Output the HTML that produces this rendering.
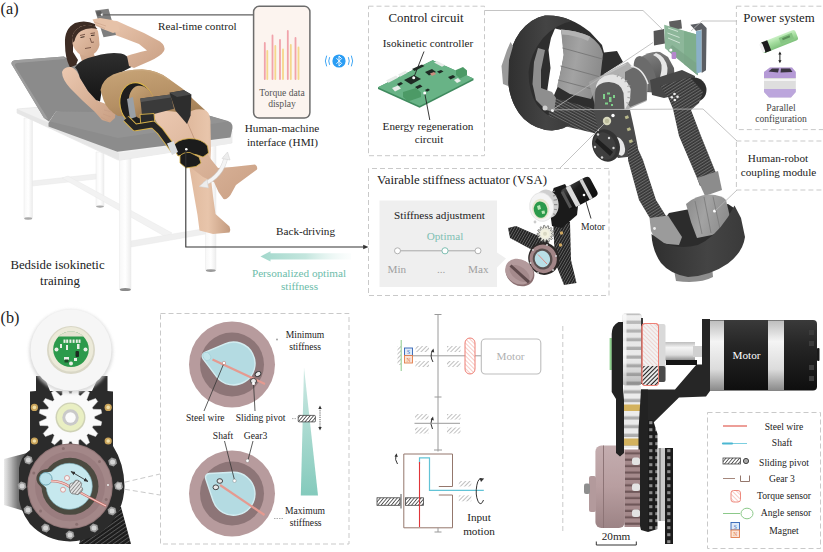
<!DOCTYPE html>
<html lang="en">
<head>
<meta charset="utf-8">
<title>Bedside isokinetic training exoskeleton with variable stiffness actuator</title>
<style>
html,body{margin:0;padding:0;background:#fff;}
body{width:823px;height:552px;overflow:hidden;font-family:"Liberation Serif",serif;}
svg{display:block;}
text{font-family:"Liberation Serif",serif;fill:#222;}
.t13{font-size:12.8px;}
.t11{font-size:11.2px;}
.t10{font-size:9.6px;}
.mid{text-anchor:middle;}
.dash{fill:none;stroke:#c9c9c9;stroke-width:1;stroke-dasharray:5 3;}
.lead{fill:none;stroke:#b5b5b5;stroke-width:0.8;}
</style>
</head>
<body>
<svg width="823" height="552" viewBox="0 0 823 552">
<defs>
<pattern id="hatchG" width="3" height="3" patternUnits="userSpaceOnUse" patternTransform="rotate(-45)">
<rect width="3" height="3" fill="#fff"/><line x1="0" y1="0" x2="3" y2="0" stroke="#b0b0b0" stroke-width="1.6"/>
</pattern>
<pattern id="hatchK" width="2.6" height="2.6" patternUnits="userSpaceOnUse" patternTransform="rotate(-50)">
<rect width="2.6" height="2.6" fill="#fff"/><line x1="0" y1="0" x2="2.6" y2="0" stroke="#333" stroke-width="1.5"/>
</pattern>
<pattern id="hatchG2" width="2.6" height="2.6" patternUnits="userSpaceOnUse" patternTransform="rotate(-50)">
<rect width="2.6" height="2.6" fill="#e4e4e4"/><line x1="0" y1="0" x2="2.6" y2="0" stroke="#777" stroke-width="1.4"/>
</pattern>
<pattern id="hatchR" width="3" height="3" patternUnits="userSpaceOnUse" patternTransform="rotate(45)">
<rect width="3" height="3" fill="#fff"/><line x1="0" y1="0" x2="3" y2="0" stroke="#ef9a90" stroke-width="1"/>
</pattern>
<pattern id="carbon" width="3" height="3" patternUnits="userSpaceOnUse" patternTransform="rotate(35)">
<rect width="3" height="3" fill="#2b2b2b"/><line x1="0" y1="0.5" x2="3" y2="0.5" stroke="#8a8a8a" stroke-width="0.9"/>
</pattern>
<pattern id="carbon2" width="3.4" height="3.4" patternUnits="userSpaceOnUse" patternTransform="rotate(-35)">
<rect width="3.4" height="3.4" fill="#1c1c1c"/><line x1="0" y1="0.5" x2="3.4" y2="0.5" stroke="#5a5a5a" stroke-width="0.9"/>
</pattern>
<filter id="b1" x="-10%" y="-10%" width="120%" height="120%"><feGaussianBlur stdDeviation="0.6"/></filter>
<filter id="b2" x="-20%" y="-20%" width="140%" height="140%"><feGaussianBlur stdDeviation="1.5"/></filter>
<filter id="b4" x="-30%" y="-30%" width="160%" height="160%"><feGaussianBlur stdDeviation="3.5"/></filter>
<marker id="arr" viewBox="0 0 10 10" refX="9" refY="5" markerWidth="6" markerHeight="6" orient="auto-start-reverse"><path d="M0,1 L10,5 L0,9 z" fill="#333"/></marker>
</defs>
<rect width="823" height="552" fill="#fff"/>
<!-- ===== (a) bed and patient ===== -->
<g id="bed">
<defs>
<linearGradient id="skin" x1="0" y1="0" x2="1" y2="1"><stop offset="0" stop-color="#ecc9b1"/><stop offset="1" stop-color="#c99f83"/></linearGradient>
<linearGradient id="skin2" x1="0" y1="0" x2="1" y2="0"><stop offset="0" stop-color="#dfb89c"/><stop offset="0.5" stop-color="#e8c5ab"/><stop offset="1" stop-color="#c39a7e"/></linearGradient>
<linearGradient id="legw" x1="0" y1="0" x2="1" y2="0"><stop offset="0" stop-color="#f7f7f7"/><stop offset="0.5" stop-color="#ffffff"/><stop offset="1" stop-color="#ececec"/></linearGradient>
<linearGradient id="matt" x1="0" y1="0" x2="0" y2="1"><stop offset="0" stop-color="#9a9a9a"/><stop offset="1" stop-color="#888"/></linearGradient>
<linearGradient id="tealarrow" x1="0" y1="0" x2="1" y2="0"><stop offset="0" stop-color="#a3d8cc"/><stop offset="0.5" stop-color="#c4e6de"/><stop offset="1" stop-color="#eef8f6" stop-opacity="0.2"/></linearGradient>
<linearGradient id="shorts" x1="0" y1="0" x2="0.3" y2="1"><stop offset="0" stop-color="#c8a578"/><stop offset="0.6" stop-color="#b48f64"/><stop offset="1" stop-color="#9c7a52"/></linearGradient>
<linearGradient id="topg" x1="0" y1="0" x2="0" y2="1"><stop offset="0" stop-color="#2e2e2e"/><stop offset="1" stop-color="#151515"/></linearGradient>
</defs>
<!-- frame legs and rails (white) -->
<g stroke="#e9e9e9" stroke-width="0.5">
<path d="M96,152 H104 V206 Q100,208.5 96,206 z" fill="url(#legw)"/>
<path d="M32,181 L96,174 L96,179 L32,186 z" fill="#f0f0f0"/>
<path d="M62,178 L68,176 L172,233 L166,237 z" fill="#f2f2f2"/>
<path d="M205.5,140 H216 V270 Q211,273 205.5,270 z" fill="url(#legw)"/>
<path d="M131,241 L205.5,228.5 L205.5,234 L131,247 z" fill="#efefef"/>
<path d="M24,118 H32.5 V218 Q28,220.5 24,218 z" fill="url(#legw)"/>
<path d="M119.5,156 H131 V289 Q125,292.5 119.5,289 z" fill="url(#legw)"/>
</g>
<ellipse cx="125.3" cy="289.5" rx="5.6" ry="1.6" fill="#8a8a8a"/><ellipse cx="210.8" cy="270.6" rx="5" ry="1.4" fill="#9a9a9a"/>
<ellipse cx="28.2" cy="218.5" rx="4" ry="1.2" fill="#aaa"/><ellipse cx="100" cy="206.6" rx="3.8" ry="1.1" fill="#aaa"/>
<!-- frame top -->
<path d="M17,109 L52,106 L232,131 L232,143 L121,160 L118,160 L17,113 z" fill="#f1f1f1" stroke="#dedede" stroke-width="0.5"/>
<path d="M17,113 L119,160 L119,153 L17,109 z" fill="#e6e6e6"/>
<path d="M119,153 L231,138 L231,143.5 L119,160 z" fill="#ededed"/>
<!-- mattress -->
<path d="M48.5,123 L56,111.5 L160,104 L207,115 L228,121 Q233,123 232.5,128 L230.5,137.5 L117.3,151.8 L48.5,126.5 z" fill="#8c8c8c"/>
<path d="M50,121.5 L56.5,111.5 L160,104 L207,115 L228,121.5 L118,138 z" fill="#939393"/>
<!-- backrest -->
<path d="M11.5,64 Q11,61 15,60.2 L64,56.5 L80,66 L100,112 L56,111.5 L49,121.5 L44,118 z" fill="#8b8b8b"/>
<path d="M11.5,64 Q11,61 15,60.2 L64,56.5 L65,59 L17,63 Q14.5,63.5 15,66 L48,119 L44,118 z" fill="#9d9d9d"/>
<!-- hair -->
<path d="M65,44 Q64,29 75,23 Q85,19.5 95,24 L96,30 L80,32 L73,42 L73,52 L78,60 L76,65 L70,67.5 Q65,58 65,44 z" fill="#3d2c24"/>
<!-- neck + face -->
<path d="M79,52 L92,50 L96,59 L83,64.5 z" fill="#cfa78c"/>
<path d="M72,37 Q75,27 86,25 Q95,24.5 98,31 L99,38 L99.5,45 Q98,52 92,55 Q84,58 78,53 Q71,46 72,37 z" fill="url(#skin)"/>
<path d="M72,37 Q75,27 86,25 Q94,24.5 97.5,29 Q88,27 81,31 Q76,34 74.5,41 L72.5,43 z" fill="#3d2c24"/>
<path d="M80,35.5 l5,-1.2 M90.5,33.5 l4.5,-0.6 M90,38 l1.5,4.5 l2.5,-0.5 M85,48.5 l6,-1" stroke="#6f4d3f" stroke-width="0.9" fill="none"/>
<path d="M80.5,37.5 l4,-0.8 M91,35.5 l3.6,-0.4" stroke="#3a2a22" stroke-width="1" fill="none"/>
<!-- left (near) arm -->
<path d="M62,72 Q64,66.5 71,67 Q77,69 80,78 L88,91 L98,101 L106,104 L113,103 L116,108 L115,118 L110,122.5 L102,120 L95,112 L83,101 L70,88 Q62,79 62,72 z" fill="url(#skin)"/>
<!-- top -->
<path d="M75,67.5 Q79,61 88,58 L101,54.5 Q112,52 121,53.5 Q128,55 130,61 L131.5,67 L120,73 L107,80 L102,89 L100,101.5 L96,100 L88,91 L80,78 Q78,70 75,67.5 z" fill="url(#topg)"/>
<!-- far arm holding phone -->
<path d="M127,56 Q135,53 147,50.5 L139,44 L122,37.5 L108,32.5 L100,23 L104,19.5 L117,21 L128,26 L144,33 L160,41.5 Q166,46 164,51 Q161,56 150,61 L134,68 L129,66 z" fill="url(#skin)"/>
<!-- phone -->
<path d="M95,10.5 L108.5,8.8 L116,35 L103.5,37.3 z" fill="#7e7e7e"/>
<path d="M96,11.5 L101,11 L102.5,15.5 L97.5,16.2 z" fill="#5d5d5d"/>
<circle cx="102" cy="14.6" r="1.2" fill="#fff"/>
<path d="M92.5,19.5 L100,18 L112,20 L118,25 L120,31 L113,33 L104,29.5 L96,26 z" fill="#e6c2a8"/><path d="M94,22 l12,4 M95,24.5 l10,4" stroke="#c9a188" stroke-width="0.6" fill="none"/>
<!-- far thigh / shorts -->
<path d="M100.5,90 Q102,80 113,74.5 Q126,69.5 142,69.5 Q158,70 169,79 L183,89 L194,100 L205,110 L207,122 L196,130 L180,118 L150,118 L118,116 Q107,110 103.5,100 z" fill="url(#shorts)"/>
<path d="M113,76 Q126,70 142,70 Q158,71 169,80" fill="none" stroke="#c8a67c" stroke-width="1.5"/>
<!-- far lower leg (hanging) -->
<path d="M186,114 Q196,107 206,110.5 Q211,114 210.5,126 L211,150 L210,170 L213,196 L215.5,214 L229.5,226.5 Q231,230 229.5,232.5 L213,234 L199.5,230.5 L197.5,215 L194,195 L189,165 L186,140 z" fill="url(#skin2)"/>
<!-- near lower leg w/ raised foot -->
<path d="M152,114 Q165,108 184,114 L188,124 L194,138 L205,148 L210,158 L218,168 L232,167 L255,164.5 Q258,166 257,169.5 L247.5,176.5 L236,185 L230.5,195 Q227,200 223.5,199 L218.5,192 L214,182 L203,177 L190,167 L176,150 L163,133 z" fill="url(#skin)"/>
<path d="M184,114 L188,124 L194,138 L203,147" fill="none" stroke="#b98e74" stroke-width="1" opacity="0.7"/>
<!-- upper cuff ring -->
<ellipse cx="137" cy="104" rx="17" ry="21.5" transform="rotate(-12 137 104)" fill="#1e1e1e" stroke="#d8b24a" stroke-width="1.1"/>
<ellipse cx="141.5" cy="102.5" rx="12.5" ry="17" transform="rotate(-12 141.5 102.5)" fill="url(#shorts)"/>
<path d="M127,99 L133,97 L136,117 L130,119 z" fill="#9aa0a6"/>
<!-- brace boxes -->
<path d="M140.3,98.6 L170.5,94.4 L174,108.7 L154,114 L142,115.5 z" fill="#3a3a3a"/>
<path d="M140.3,98.6 L170.5,94.4 L171,97.5 L141,102 z" fill="#555"/>
<path d="M169.5,92.8 L184,90.2 L191.4,94.4 L190.6,115.4 L187,124 L175.5,110.5 z" fill="#2d2d2d"/>
<path d="M169.5,92.8 L184,90.2 L191.4,94.4 L177,97 z" fill="#4a4a4a"/>
<!-- lower brace link with yellow outline -->
<path d="M140,114.5 L154,113.5 L155,125 L141,128 z" fill="#2a2a2a" stroke="#d8b24a" stroke-width="0.9"/>
<path d="M126,118.5 L135,127.5 L153,124.5 L160,131 L174,150" fill="none" stroke="#d8b24a" stroke-width="7.6" stroke-linejoin="round"/>
<path d="M126,118.5 L135,127.5 L153,124.5 L160,131 L174,150" fill="none" stroke="#242424" stroke-width="5.8" stroke-linejoin="round"/>
<!-- lower cuff -->
<path d="M173,147 Q176,139.5 189,138.5 Q202,138.5 207.5,146 L208.5,153 L203,157 Q190,151 178,156 z" fill="#1c1c1c" stroke="#d8b24a" stroke-width="0.8"/>
<path d="M180,156 Q183,152 190,152.5 L199,157 L201,163 L196,166.5 L186,168 L180,163 z" fill="#1c1c1c" stroke="#d8b24a" stroke-width="0.8"/>
<path d="M167,143.5 L173.5,141 L178,152 L172,155 z" fill="#d9dcdf"/>
<circle cx="186.3" cy="149.3" r="1.3" fill="#fff"/>
<!-- hand details -->
<path d="M104,110 l8,2 M103,114 l8,3 M101,117 l7,4" stroke="#c79e84" stroke-width="0.7" fill="none"/>
<!-- motion arrow (white curved) -->
<path d="M204,184 Q222,176 226,157" fill="none" stroke="#cfcfcf" stroke-width="4.6" opacity="0.7"/>
<path d="M204,184 Q222,176 226,157" fill="none" stroke="#f4f4f4" stroke-width="3.4"/>
<path d="M199,186.5 L207,179.5 L208.5,188 z M222,158.5 L227.5,152 L230,160 z" fill="#ededed" stroke="#cfcfcf" stroke-width="0.5"/>
<!-- connector lines -->
<path d="M102.5,14.8 H253.5" stroke="#606060" stroke-width="1.3" fill="none"/>
<path d="M185.8,151 V247 H366" stroke="#333" stroke-width="1.1" fill="none"/>
<path d="M363.2,244.7 L368.5,247 L363.2,249.3 z" fill="#333"/>
<!-- teal arrow -->
<path d="M260.5,256.4 L270.5,251.2 V253.3 H351 V259.6 H270.5 V261.6 z" fill="url(#tealarrow)"/>
</g>
<!-- ===== HMI phone + bluetooth ===== -->
<g id="hmi">
<rect x="253.6" y="6.3" width="56.3" height="111.8" rx="5.5" fill="#fcf4ef" stroke="#6c6c6c" stroke-width="1.5"/>
<g stroke-linecap="round" stroke-width="1.8" fill="none">
<path d="M264.8,79 V43 M272.5,79 V35.5 M280,79 V40 M287.8,79 V31 M295.5,79 V38" stroke="#f1a3ab"/>
<path d="M267.3,79 V51 M275.3,79 V46 M283,79 V49.5 M290.8,79 V45 M298.5,79 V47.5" stroke="#f5d88c"/>
</g>
<circle cx="339" cy="61" r="6.6" fill="#2a9df4"/>
<path d="M336.4,58.2 L341.6,63.4 L339,66 V56 L341.6,58.6 L336.4,63.8" fill="none" stroke="#fff" stroke-width="0.9" stroke-linejoin="round"/>
<g fill="none" stroke="#2a9df4" stroke-width="0.9" stroke-linecap="round">
<path d="M329.5,57.5 Q327.8,61 329.5,64.5 M326.5,56 Q324,61 326.5,66"/>
<path d="M348.5,57.5 Q350.2,61 348.5,64.5 M351.5,56 Q354,61 351.5,66"/>
</g>
</g>
<!-- ===== (a) exoskeleton render ===== -->
<g id="exo">
<defs>
<linearGradient id="padg" x1="0" y1="0" x2="1" y2="0.3"><stop offset="0" stop-color="#8a8a8a"/><stop offset="0.5" stop-color="#a3a3a3"/><stop offset="1" stop-color="#8d8d8d"/></linearGradient>
<linearGradient id="bandg" x1="0" y1="0" x2="1" y2="0"><stop offset="0" stop-color="#2f2f2f"/><stop offset="0.6" stop-color="#444"/><stop offset="1" stop-color="#3a3a3a"/></linearGradient>
<linearGradient id="motg" x1="0" y1="0" x2="0.4" y2="1"><stop offset="0" stop-color="#8a8a8a"/><stop offset="0.5" stop-color="#6a6a6a"/><stop offset="1" stop-color="#4a4a4a"/></linearGradient>
<pattern id="cf" width="2.6" height="2.6" patternUnits="userSpaceOnUse" patternTransform="rotate(28)">
<rect width="2.6" height="2.6" fill="#353535"/><line x1="0" y1="0.6" x2="2.6" y2="0.6" stroke="#7d7d7d" stroke-width="0.8"/>
</pattern>
<pattern id="cfb" width="2.6" height="2.6" patternUnits="userSpaceOnUse" patternTransform="rotate(-32)">
<rect width="2.6" height="2.6" fill="#353535"/><line x1="0" y1="0.6" x2="2.6" y2="0.6" stroke="#7d7d7d" stroke-width="0.8"/>
</pattern>
</defs>
<!-- upper ring: full silhouette -->
<path d="M545,15.5 Q568,14 590,32 L602,45 L604,52.5 L617,51 L623,62 L604,74 L598,96 L598,112 L572,122 Q566,129 552,130.5 Q536,130 524,119 Q509,104 507.5,76 Q507,50 520,32 Q531,18 545,15.5 z" fill="#2e2e2e"/>
<!-- hole -->
<path d="M555,28.5 L561.5,30 L564,55 L561,70 L558,86 L553,97.5 L547,92 L550.5,68 L548.5,50 L551,38 z" fill="#fff"/>
<!-- grey pad (upper) -->
<path d="M561,29.5 Q575,30 590,36.5 Q601,44 603,54 L600,80 L591,99 L570,94 L557,86.5 L561,70 L563.5,55 z" fill="url(#padg)"/>
<path d="M562.5,48 L602.5,59 M560.5,66 L600.5,77 M558,80 L596,90" stroke="#7a7a7a" stroke-width="1" fill="none"/>
<path d="M561,29.5 Q575,30 590,36.5 L588,41 Q575,35 562,34.5 z" fill="#b3b3b3"/>
<!-- upper left carbon strut -->
<path d="M551,97 L598,110 L598,134 L560,125 L548,119 z" fill="url(#cf)"/>
<!-- ring near band (outer surface) -->
<path d="M545,15.5 Q560,15 572,21 Q556,24 543,38 Q530,54 528.5,72 Q528.5,92 537,105 Q546,116 556,119 L570,124 Q566,129 552,130.5 Q536,130 524,119 Q509,104 507.5,76 Q507,50 520,32 Q531,18 545,15.5 z" fill="url(#bandg)"/>
<!-- buckle parts -->
<path d="M501.5,66 L507,50 L510.5,42 L513,46 L509,60 L508,86 L503,84 z" fill="#9a9a9a"/>
<path d="M534,62 L538,48 L545,50 L541,70 L541,88 L552,92 L556,98 L554,112 L546,110 L536,100 L532.5,84 z" fill="#8e8e8e"/>
<circle cx="545" cy="108" r="2.5" fill="#cfcfcf"/><circle cx="552.5" cy="110.5" r="1.4" fill="#fff"/>
<!-- main motor cylinder -->
<path d="M632,70 L640,58 Q650,50.5 660,52 L668,57 L674,68 L675,84 L664,93 L646,92 z" fill="url(#motg)"/>
<ellipse cx="645" cy="74" rx="9.5" ry="19" transform="rotate(-22 645 74)" fill="#6b6b6b"/>
<path d="M656,53 Q665.5,56 667.5,68 Q667.5,76 664.5,82 L659,80 Q662,72 661.5,65 Q660,58 653,55 z" fill="#e6e6e6"/>
<!-- translucent housing -->
<path d="M588.7,82 L627.8,61.7 L648,83.5 L646.7,101 L627.8,109.6 L596,109 z" fill="#a2a2a2" opacity="0.85"/>
<path d="M625,72 L634,67 L646.7,82 L646.7,100 L630,107 L625,100 z" fill="#6a6a6a"/>
<path d="M630.7,66 Q643,68 648,84" fill="none" stroke="#e9e9e9" stroke-width="1.6"/>
<path d="M600,77.5 L626,64" stroke="#c4c4c4" stroke-width="1.2" fill="none"/>
<!-- motor mount block -->
<path d="M650,80 L682,70 L695,76 L694,91 L664,98 L652,95 z" fill="#474747"/>
<!-- PCB + battery at top -->
<path d="M653.6,31 L664,29 L665,43.5 L654,45.5 z" fill="#565656"/>
<path d="M669,21.5 L681,19.8 L682,28.5 L670,30 z" fill="#5e5e5e"/>
<path d="M664.2,24.7 L696.9,34.5 L697.7,75.2 L665,48.3 z" fill="#8db79a"/>
<path d="M684,31 L696.9,34.5 L697.7,75.2 L684,64 z" fill="#7fae8d"/><path d="M668,51 L697.7,75.2 L697.5,64 L672,45 z" fill="#7aa487" opacity="0.8"/>
<path d="M668,28 l10,3.5 M667.5,33 l12,4.5 M668,38 l12,5" stroke="#dfeee2" stroke-width="1" fill="none" opacity="0.8"/>
<path d="M696,31.2 L701.7,30 L701.7,72 L696.5,73.6 z" fill="#8ab0c8"/>
<path d="M690.3,24.7 L701.7,23 L706.6,28 L706,70.3 L701.7,73 L701.7,29.5 L696,31 z" fill="#5b5e63"/>
<circle cx="670.8" cy="50" r="1.6" fill="#fff"/><rect x="671.6" y="52" width="4.6" height="7" rx="1" fill="#b487cc"/>
<!-- right carbon strut + lower -->
<circle cx="694" cy="90" r="12.5" fill="#2e2e2e"/>
<path d="M660,86 L690,77 L703,92 L699,103 L691,110 L701,136 L716,173 L718,180 L700,186 L697,178 L679,136 L673,109 L668,97 z" fill="url(#cfb)"/>
<g fill="#ededed"><circle cx="674.5" cy="94" r="1.3"/><circle cx="677.5" cy="96.8" r="1.3"/><circle cx="671.8" cy="97.2" r="1.3"/><circle cx="674.8" cy="100" r="1.3"/></g>
<!-- joint body: gear + tombstone -->
<path d="M596,86 Q599,75 613,74.5 Q626,76 630.7,89 L630,100 L625,109.5 L596,110 z" fill="#e3e3e3"/>
<path d="M617,77 l1.6,-2.6 m2.6,4.6 l2.2,-2.2 m1.2,5.2 l2.6,-1.6 m0,6 l3,-1 m-2.6,6.6 l3,-0.2 m-3.2,5.6 l3,0.6 m-4,4.6 l2.6,1.2" stroke="#a6a6a6" stroke-width="1.1" fill="none"/>
<path d="M595.2,92 Q596,82.5 609,82 Q621,82.5 623.5,93 L624.5,109.5 L594,110 z" fill="#5a5a5a"/>
<g fill="#7fd08a"><rect x="603" y="94" width="2" height="5"/><rect x="607" y="92.5" width="3" height="2"/><rect x="609" y="97" width="2.5" height="5"/><rect x="613" y="95" width="2" height="3"/><rect x="605" y="102.5" width="3" height="2"/><rect x="611" y="104" width="2" height="2"/></g>
<!-- joint plate -->
<path d="M593.5,110 L630,110 L634,128 L638,148 L636,156 L618,158 L600,136 z" fill="#4b4b4b"/>
<circle cx="607" cy="121" r="4.2" fill="#d8d8bc"/><circle cx="607" cy="121" r="2.2" fill="#bdbd9c"/>
<circle cx="613" cy="115.5" r="1.7" fill="#fff"/>
<g fill="#b9b98a"><rect x="625" y="116" width="3.5" height="3" transform="rotate(-20 626 117)"/><rect x="627" y="128" width="3.5" height="3" transform="rotate(-20 628 129)"/><rect x="629" y="140" width="3.5" height="3" transform="rotate(-20 630 141)"/></g>
<!-- left lower strut -->
<path d="M628,150 L634,140 L643,160 L656,200 L667,217.5 L669,226 L653,228 L651,220 L639,200 L628,160 z" fill="url(#cfb)"/>
<!-- hub disc -->
<ellipse cx="619.5" cy="146.5" rx="5" ry="9.5" transform="rotate(-18 619.5 146.5)" fill="#e8e8e8"/>
<ellipse cx="606" cy="145.5" rx="13.5" ry="16.5" transform="rotate(-22 606 145.5)" fill="#333"/>
<ellipse cx="604.5" cy="146" rx="11" ry="14" transform="rotate(-22 604.5 146)" fill="#3f3f3f"/>
<path d="M597,138 L613,152 L610,156 L595,142 z" fill="#1f1f1f"/>
<g fill="#d5d5d5"><circle cx="598" cy="134.5" r="1.2"/><circle cx="609" cy="138" r="1.2"/><circle cx="613.5" cy="148" r="1.2"/><circle cx="595" cy="147" r="1.2"/><circle cx="602" cy="157.5" r="1.2"/></g>
<!-- lower cuff -->
<path d="M697,178 L718,171 L722,190 L705,196 z" fill="#8c8c8c"/>
<path d="M669,213 L690,209 L728,204 L734,208 L730,232 L700,250 L670,248 L655,240 L660,225 z" fill="#2c2c2c"/>
<path d="M686,204 Q696,195 709.5,194.5 Q722,195 726,200 L730,217 L728.5,228 L712,235 L697,238 L691,222 z" fill="url(#padg)"/>
<path d="M695,201 L702,234 M704,197 L711,233 M713,196.5 L720,229" stroke="#7d7d7d" stroke-width="0.9" fill="none"/>
<path d="M649.5,218 L668,215.5 L682,237 L679,245 L657,243 L651,231 z" fill="#9b9b9b"/>
<circle cx="654.5" cy="228.5" r="1.4" fill="#eee"/>
<path d="M674,270 L712,266 L713,277 Q700,284 676,281 z" fill="#8d8d8d"/>
<path d="M651.5,234 L664,243 Q680,250 698,245 Q714,238 728,217 L734.5,205.5 L741,218 L745,237 Q743,252 728,263.5 Q710,276 688,277 Q670,274 661,263 Q652,250 651.5,234 z" fill="url(#bandg)"/>
<circle cx="714.5" cy="211" r="1.5" fill="#fff"/>
</g>
<!-- ===== control PCB ===== -->
<g id="pcb">
<path d="M378,87.2 L432.7,60.2 L473.5,78.4 L473.5,80.2 L419.6,107.8 L378,89 z" fill="#3f8a5e"/>
<path d="M378,87.2 L432.7,60.2 L473.5,78.4 L419.6,106 z" fill="#68b386"/>
<g fill="#e8ece9">
<path d="M386,80.5 L396,75.5 L398.5,77.5 L388.5,82.8 z"/><path d="M398,74.5 L405.5,70.8 L407.5,72.8 L400,76.8 z"/>
<path d="M434,62.5 L437,61 L445,65 L442,66.8 z"/><path d="M392,88 L398,85.5 L401,88.5 L395,91.5 z"/>
<path d="M454,80 L458,78 L461,81 L457,83 z"/>
</g>
<g fill="#1f2a24">
<path d="M404,80 L414,75 L421,79 L411,84.5 z"/><path d="M412,69 L422,64.5 L424.5,66 L414.5,71 z"/>
<path d="M425,72 L432,69 L436,72 L429,75.5 z"/><path d="M437,71.5 L441,70 L443.5,71.5 L439.5,73.5 z"/>
<path d="M448,77 L453,75 L455.5,77 L450.5,79.5 z"/><path d="M397,84 L401,82 L403,83.8 L399,86 z"/>
<path d="M415,87 L420,84.5 L422.5,86.5 L417.5,89 z"/><path d="M425,90 L428,88.5 L430,90 L427,91.8 z"/>
</g>
<path d="M430,73.5 L434,72 L436,74 L432,76 z" fill="#c98d7e"/>
<path d="M456,70 L463,67 L467,70.5 L467,75 L460,78.5 L456,75 z" fill="#4c9a66"/>
<path d="M403,92 L416,88 L421,92.5 L421,97 L408,101.5 L403,97 z" fill="#4c9a66"/>
<path d="M424,51.5 L413.7,77.7" stroke="#222" stroke-width="0.9"/>
<path d="M424.7,93 L429.8,120" stroke="#222" stroke-width="0.9"/>
<circle cx="413.7" cy="77.7" r="1.5" fill="#fff"/><circle cx="424.7" cy="93" r="1.5" fill="#fff"/>
</g>
<!-- ===== power system ===== -->
<g id="power">
<defs>
<linearGradient id="cellg" x1="0" y1="0" x2="0" y2="1"><stop offset="0" stop-color="#c9f0c4"/><stop offset="0.45" stop-color="#a3dc9d"/><stop offset="1" stop-color="#7fc17c"/></linearGradient>
</defs>
<g transform="rotate(-21.5 779 41.5)">
<rect x="760" y="36" width="38" height="11" rx="2.5" fill="url(#cellg)"/>
<rect x="762" y="36" width="6.5" height="11" fill="#1c1c1c"/>
<rect x="759.5" y="36.6" width="3.2" height="9.8" rx="1.5" fill="#f2f2f2"/>
<rect x="780" y="38" width="14" height="6.5" fill="#86c583"/>
<rect x="783" y="39.5" width="8" height="2.2" fill="#5b8f5a"/>
</g>
<path d="M779.9,53.5 V61" stroke="#222" stroke-width="1"/>
<path d="M778.3,54.5 L779.9,51.5 L781.5,54.5 z M778.3,60.2 L779.9,63.2 L781.5,60.2 z" fill="#222"/>
<path d="M764,72 L770,67.5 L792,67.5 L795.8,72 L795.8,92 L791,97.5 L769,97.5 L764,92 z" fill="#dedede"/>
<path d="M764,72 L770,67.5 L792,67.5 L795.8,72 L795.8,78 L764,78 z" fill="#b59ad6"/>
<path d="M764,89 H795.8 V92 L791,97.5 H769 L764,92 z" fill="#bca6dc"/>
<path d="M768.5,71.5 L772,68.5 L779,68.5 L778,72.5 z M781,68.5 L790,68.5 L792.5,72 L780.5,72.5 z" fill="#3a3540"/>
<path d="M764,80 H795.8" stroke="#f4f4f4" stroke-width="2"/>
</g>
<!-- ===== VSA 3D inset ===== -->
<g id="vsa3d">
<defs><linearGradient id="blk" x1="0" y1="0" x2="0.5" y2="1"><stop offset="0" stop-color="#4a4a4a"/><stop offset="0.4" stop-color="#1e1e1e"/><stop offset="1" stop-color="#111"/></linearGradient>
<pattern id="cfs" width="2.4" height="2.4" patternUnits="userSpaceOnUse" patternTransform="rotate(-60)"><rect width="2.4" height="2.4" fill="#1f1f1f"/><line x1="0" y1="0.5" x2="2.4" y2="0.5" stroke="#6d6d6d" stroke-width="0.8"/></pattern></defs>
<path d="M508,228 L516,226 L548,240 L552,258 L536,252 L510,238 z" fill="url(#cfs)"/>
<path d="M553,220 L570,222 L571,260 L576.5,283 L564,285 L555,262 z" fill="url(#cfs)"/>
<path d="M553.7,188 L565,184 L578,206 L577,215 L562,228 L552,226 L549,205 z" fill="#1b1b1b"/>
<g transform="rotate(-28 581 192)"><rect x="563" y="181" width="32.5" height="22" rx="4" fill="url(#blk)"/><rect x="569.5" y="181" width="5" height="22" fill="#dcdcdc"/><rect x="585" y="181" width="3.4" height="22" fill="#d0d0d0"/><rect x="563" y="183" width="3" height="18" fill="#555"/></g>
<ellipse cx="547" cy="204" rx="11.5" ry="14.5" transform="rotate(-12 547 204)" fill="#cfcfcf"/>
<path d="M552,192 l3,-1 m-2,5 l3.2,-0.8 m-2.6,5 l3.4,-0.6 m-3,5 l3.4,0 m-3.6,4.6 l3.2,0.6 m-4,4 l3,1" stroke="#8e8e8e" stroke-width="1.1" fill="none"/>
<ellipse cx="541.7" cy="207" rx="12" ry="14.5" transform="rotate(-10 541.7 207)" fill="#f4f4f4" stroke="#dcdcdc" stroke-width="0.6"/>
<ellipse cx="540.8" cy="209" rx="8.6" ry="10.2" transform="rotate(-10 540.8 209)" fill="#e8e6cf"/>
<ellipse cx="540.6" cy="209.6" rx="6.8" ry="8.2" transform="rotate(-10 540.6 209.6)" fill="#2c9a4b"/>
<path d="M537,206 l3,-1 l1,4 l-3,1 z M541.5,211 l3,-0.6 l0.6,3 l-3,0.6 z" fill="#b8e6b4"/>
<g transform="translate(1,1.2)"><path d="M550.5,232.6 L552.8,233.7 L552.6,234.9 L550.0,234.9 L549.8,235.4 L551.4,237.4 L550.6,238.4 L548.3,237.2 L547.9,237.6 L548.4,240.1 L547.2,240.5 L545.8,238.5 L545.2,238.6 L544.4,241.0 L543.2,240.9 L542.9,238.4 L542.3,238.2 L540.5,240.0 L539.5,239.4 L540.4,237.0 L540.0,236.5 L537.6,237.3 L536.9,236.3 L538.8,234.6 L538.7,234.0 L536.2,233.6 L536.1,232.3 L538.6,231.7 L538.7,231.1 L536.7,229.6 L537.2,228.5 L539.7,229.0 L540.0,228.6 L539.0,226.3 L539.9,225.5 L541.9,227.2 L542.4,227.0 L542.5,224.4 L543.7,224.2 L544.7,226.6 L545.3,226.6 L546.6,224.5 L547.7,224.8 L547.5,227.4 L547.9,227.7 L550.1,226.3 L551.0,227.2 L549.5,229.3 L549.8,229.8 L552.4,229.7 L552.7,230.8 L550.5,232.1 z" fill="#ecebe0" stroke="#444" stroke-width="0.6"/>
<circle cx="544" cy="232.6" r="4.4" fill="#f3f1de"/><circle cx="544" cy="232.6" r="2" fill="#d9d7c2"/></g>
<circle cx="561.5" cy="233" r="1.7" fill="#d0a860"/><circle cx="560.5" cy="245" r="1.7" fill="#d0a860"/><circle cx="535" cy="222" r="1.4" fill="#ccc"/>
<ellipse cx="543.8" cy="258.6" rx="15.5" ry="16.3" transform="rotate(-15 543.8 258.6)" fill="#2c2827"/>
<ellipse cx="543.2" cy="258.8" rx="13.6" ry="14.4" transform="rotate(-15 543.2 258.8)" fill="#a28587"/>
<ellipse cx="542.6" cy="259" rx="9.8" ry="10.6" transform="rotate(-15 542.6 259)" fill="#5a4f4e"/>
<ellipse cx="542.4" cy="259" rx="7.6" ry="8.3" transform="rotate(-15 542.4 259)" fill="#b9dfe6"/>
<path d="M538,254.5 L547,264" stroke="#d98a84" stroke-width="1"/>
<g fill="#cfcfcf"><circle cx="533" cy="250" r="1"/><circle cx="547" cy="245" r="1"/><circle cx="556" cy="256" r="1"/><circle cx="553" cy="270" r="1"/><circle cx="538" cy="273" r="1"/><circle cx="530.5" cy="263" r="1"/></g>
<ellipse cx="520" cy="273" rx="15" ry="12.6" transform="rotate(32 520 273)" fill="#8b7072"/>
<ellipse cx="519.2" cy="271.6" rx="14.6" ry="12.2" transform="rotate(32 519.2 271.6)" fill="#b39a9c"/>
<ellipse cx="519.6" cy="273.5" rx="11.5" ry="6.5" transform="rotate(36 519.6 273.5)" fill="#a48a8c"/>
<path d="M509.5,266.5 L511.5,264.5 L530,281 L528,283.5 z" fill="#5f4a4c"/>
<path d="M584,195 L591,218.5" stroke="#222" stroke-width="0.9"/><circle cx="584" cy="195" r="1.3" fill="#fff"/>
</g>
<!-- ===== (b) VSA front view ===== -->
<g id="vsafront">
<defs><linearGradient id="fadeL" x1="0" y1="0" x2="1" y2="0"><stop offset="0" stop-color="#777" stop-opacity="0.15"/><stop offset="0.5" stop-color="#555" stop-opacity="0.8"/><stop offset="1" stop-color="#333"/></linearGradient></defs><path d="M4,459 L31,452 L31,513 L4,505 z" fill="url(#fadeL)" filter="url(#b1)"/>
<path d="M108,505 L121,507 L131,544 L79,544 L84,528 z" fill="url(#carbon2)" filter="url(#b1)"/>
<path d="M36,376 L44,376 L50,391 L92,391 L99,376 L107.5,376 L107.5,391 L113,391.5 L113,446 Q124,463 124.5,486 Q124,507 112,522 Q96,541 70,541.5 Q46,541 30,524 Q22,514 19,500 L19,468 Q21,456 30,450 L30,391.5 L36,391 z" fill="#2b2b2b"/>
<path d="M94.5,418.5 L101.7,421.8 L101.0,425.5 L93.0,425.7 L92.3,427.6 L97.7,433.4 L95.6,436.5 L88.2,433.7 L86.7,435.2 L89.5,442.6 L86.4,444.7 L80.6,439.3 L78.7,440.0 L78.5,448.0 L74.8,448.7 L71.5,441.5 L69.5,441.5 L66.2,448.7 L62.5,448.0 L62.3,440.0 L60.4,439.3 L54.6,444.7 L51.5,442.6 L54.3,435.2 L52.8,433.7 L45.4,436.5 L43.3,433.4 L48.7,427.6 L48.0,425.7 L40.0,425.5 L39.3,421.8 L46.5,418.5 L46.5,416.5 L39.3,413.2 L40.0,409.5 L48.0,409.3 L48.7,407.4 L43.3,401.6 L45.4,398.5 L52.8,401.3 L54.3,399.8 L51.5,392.4 L54.6,390.3 L60.4,395.7 L62.3,395.0 L62.5,387.0 L66.2,386.3 L69.5,393.5 L71.5,393.5 L74.8,386.3 L78.5,387.0 L78.7,395.0 L80.6,395.7 L86.4,390.3 L89.5,392.4 L86.7,399.8 L88.2,401.3 L95.6,398.5 L97.7,401.6 L92.3,407.4 L93.0,409.3 L101.0,409.5 L101.7,413.2 L94.5,416.5 z" fill="#fafafa" stroke="#e0e0e0" stroke-width="0.5" stroke-linejoin="round"/>
<circle cx="70.5" cy="417.5" r="15" fill="#cfd2b6"/>
<circle cx="70.5" cy="417.3" r="13.5" fill="#e9efc3"/>
<circle cx="70.5" cy="417.5" r="8.2" fill="#c9c9c9"/>
<circle cx="70.5" cy="417.5" r="5.2" fill="#fbfbfb"/>
<circle cx="71" cy="351.5" r="42" fill="#cfcfcf" filter="url(#b2)" opacity="0.7"/>
<circle cx="71" cy="350" r="40.5" fill="#f6f6f6"/>
<circle cx="71" cy="350" r="24" fill="#d9d7c6"/>
<circle cx="71" cy="349.3" r="22.3" fill="#ecead9"/>
<circle cx="71" cy="349.3" r="17.8" fill="#2c9a4b"/>
<path d="M58.5,336.5 A17.8,17.8 0 0 1 83.5,336.5 z" fill="#e4e2d0"/>
<g fill="#e9efe6"><rect x="63.5" y="339.5" width="2" height="3.4"/><rect x="66.2" y="339.5" width="2" height="3.4"/><rect x="69.4" y="339.5" width="2" height="3.4"/><rect x="72.6" y="339.5" width="2" height="3.4"/><rect x="75.8" y="339.5" width="2" height="3.4"/><rect x="78.5" y="339.5" width="2" height="3.4"/>
<circle cx="56.5" cy="349.5" r="2"/><circle cx="85.5" cy="349.5" r="2"/><circle cx="71" cy="363.5" r="2"/><rect x="60" y="344" width="2" height="4"/><rect x="66" y="345" width="2" height="5"/><rect x="77" y="344" width="2.5" height="5"/><rect x="64" y="357" width="5" height="3"/><rect x="74" y="358" width="3" height="3"/></g>
<rect x="75.5" y="351" width="3.5" height="6" rx="1" fill="#1d2a20"/><rect x="64.5" y="359.5" width="4" height="3" fill="#1d4a28"/>
<circle cx="34.4" cy="407.4" r="3.6" fill="#caa45a"/><circle cx="34.4" cy="407.4" r="1.8" fill="#f0dfa8"/>
<circle cx="108.2" cy="407.4" r="3.6" fill="#caa45a"/><circle cx="108.2" cy="407.4" r="1.8" fill="#f0dfa8"/>
<circle cx="34.4" cy="441.0" r="3.6" fill="#caa45a"/><circle cx="34.4" cy="441.0" r="1.8" fill="#f0dfa8"/>
<circle cx="108.2" cy="441.0" r="3.6" fill="#caa45a"/><circle cx="108.2" cy="441.0" r="1.8" fill="#f0dfa8"/>
<path d="M32.8,461.4 L29.4,464.5 L25.0,463.1 L24.0,458.6 L27.4,455.5 L31.8,456.9 z" fill="#9b9b9b"/><circle cx="28.4" cy="460.0" r="2.5" fill="#d4d4d4"/>
<path d="M26.4,487.4 L23.0,490.5 L18.6,489.1 L17.6,484.6 L21.0,481.5 L25.4,482.9 z" fill="#9b9b9b"/><circle cx="22.0" cy="486.0" r="2.5" fill="#d4d4d4"/>
<path d="M32.4,511.4 L29.0,514.5 L24.6,513.1 L23.6,508.6 L27.0,505.5 L31.4,506.9 z" fill="#9b9b9b"/><circle cx="28.0" cy="510.0" r="2.5" fill="#d4d4d4"/>
<path d="M50.0,529.4 L46.6,532.5 L42.2,531.1 L41.2,526.6 L44.6,523.5 L49.0,524.9 z" fill="#9b9b9b"/><circle cx="45.6" cy="528.0" r="2.5" fill="#d4d4d4"/>
<path d="M74.4,536.4 L71.0,539.5 L66.6,538.1 L65.6,533.6 L69.0,530.5 L73.4,531.9 z" fill="#9b9b9b"/><circle cx="70.0" cy="535.0" r="2.5" fill="#d4d4d4"/>
<path d="M98.4,529.4 L95.0,532.5 L90.6,531.1 L89.6,526.6 L93.0,523.5 L97.4,524.9 z" fill="#9b9b9b"/><circle cx="94.0" cy="528.0" r="2.5" fill="#d4d4d4"/>
<path d="M116.4,512.4 L113.0,515.5 L108.6,514.1 L107.6,509.6 L111.0,506.5 L115.4,507.9 z" fill="#9b9b9b"/><circle cx="112.0" cy="511.0" r="2.5" fill="#d4d4d4"/>
<path d="M123.0,487.4 L119.6,490.5 L115.2,489.1 L114.2,484.6 L117.6,481.5 L122.0,482.9 z" fill="#9b9b9b"/><circle cx="118.6" cy="486.0" r="2.5" fill="#d4d4d4"/>
<path d="M117.0,463.4 L113.6,466.5 L109.2,465.1 L108.2,460.6 L111.6,457.5 L116.0,458.9 z" fill="#9b9b9b"/><circle cx="112.6" cy="462.0" r="2.5" fill="#d4d4d4"/>
<circle cx="70" cy="486.3" r="42.8" fill="#8f7475"/>
<circle cx="70" cy="486.3" r="41.8" fill="#a38788"/>
<circle cx="70" cy="486.3" r="35" fill="#9a7d7f"/>
<circle cx="106.2" cy="499.5" r="1.5" fill="#8a6f70"/>
<circle cx="76.7" cy="524.2" r="1.5" fill="#8a6f70"/>
<circle cx="40.5" cy="511.0" r="1.5" fill="#8a6f70"/>
<circle cx="33.8" cy="473.1" r="1.5" fill="#8a6f70"/>
<circle cx="63.3" cy="448.4" r="1.5" fill="#8a6f70"/>
<circle cx="99.5" cy="461.6" r="1.5" fill="#8a6f70"/>
<circle cx="70" cy="486.3" r="28.5" fill="#4b4a40"/>
<path d="M53.7,501.1 L38.8,484.6 A9.0,9.0 0 0 1 43.5,469.8 L65.1,464.9 A22.0,22.0 0 1 1 53.7,501.1 z" fill="#4b4a40"/>
<circle cx="69.3" cy="486.3" r="23" fill="#c6e8ee" stroke="#7fb5c0" stroke-width="0.6"/>
<path d="M57.9,498.7 L41.5,483.4 A6.3,6.3 0 0 1 44.9,472.6 L67.2,469.5 A17.0,17.0 0 1 1 57.9,498.7 z" fill="#c6e8ee"/>
<circle cx="45.8" cy="478.8" r="6.3" fill="#b9e1ea" stroke="#5f9aa8" stroke-width="0.8"/>
<path d="M51,481 Q62,481 70,487 Q88,497 106,506" fill="none" stroke="#c76560" stroke-width="2.4"/>
<path d="M51,481 Q62,481 70,487 Q88,497 106,506" fill="none" stroke="#f3c9c4" stroke-width="1.3"/>
<circle cx="67" cy="478" r="2.5" fill="#f4f4f4" stroke="#d68a86" stroke-width="0.8"/><circle cx="63" cy="489.7" r="2.5" fill="#f4f4f4" stroke="#d68a86" stroke-width="0.8"/>
<path d="M69.5,487 q-0.5,-4.5 4,-4 q1.5,-4.5 6,-2 q3.5,2 1.5,5.5 q3.5,3 -0.5,6 q-2,3.5 -6,1.5 q-5.5,0.5 -5,-7 z" fill="url(#hatchG2)" stroke="#666" stroke-width="0.7"/>
<path d="M71,471.5 L88,481.5" stroke="#222" stroke-width="0.8" marker-start="url(#arr)" marker-end="url(#arr)"/>
<circle cx="108" cy="485" r="1" fill="#eee"/>
</g>
<!-- ===== (b) inset: min / max stiffness ===== -->
<g id="inset">
<defs>
<linearGradient id="tealg" x1="0" y1="0" x2="0" y2="1"><stop offset="0" stop-color="#cde9e3"/><stop offset="1" stop-color="#84cabc"/></linearGradient>
</defs>
<path d="M304,367.5 L300.8,495.6 L318,495.6 z" fill="url(#tealg)"/>
<!-- top disc -->
<circle cx="232" cy="364.5" r="43" fill="#b79b9d"/>
<circle cx="232" cy="364.5" r="32" fill="#8d7577"/>
<path d="M216.3,376.4 L203.1,358.8 A4.2,4.2 0 0 1 204.8,352.4 L225.0,343.8 A21.5,21.5 0 1 1 216.3,376.4 z" fill="#b4dbe2" stroke="#d3edf1" stroke-width="1.4"/>
<ellipse cx="206.8" cy="356.4" rx="3.6" ry="4.4" transform="rotate(-30 206.8 356.4)" fill="#c3e5eb" stroke="#9fcdd6" stroke-width="0.6"/>
<path d="M212.5,359.5 L265,384" stroke="#e59a90" stroke-width="2.2" fill="none"/>
<path d="M224,363 L204,411" stroke="#333" stroke-width="0.8"/>
<path d="M253.5,383 L255,411" stroke="#333" stroke-width="0.8"/>
<circle cx="224" cy="363" r="1.7" fill="#fff" stroke="#b06a64" stroke-width="0.5"/>
<ellipse cx="258" cy="374" rx="3" ry="2.3" transform="rotate(-30 258 374)" fill="#e8e8e8" stroke="#333" stroke-width="0.9"/>
<ellipse cx="253.5" cy="381" rx="3" ry="2.6" fill="#e8e8e8" stroke="#333" stroke-width="0.9"/>
<circle cx="253.5" cy="383.5" r="1.5" fill="#fff"/>
<circle cx="277" cy="339.5" r="0.9" fill="#999"/>
<!-- hatch symbol -->
<line x1="292" y1="418.6" x2="297" y2="418.6" stroke="#999" stroke-width="0.8" stroke-dasharray="1.5 1"/>
<rect x="298.2" y="415.4" width="17.2" height="6.5" rx="1" fill="url(#hatchK)" stroke="#444" stroke-width="0.8"/>
<path d="M320,408 V428" stroke="#333" stroke-width="0.8" stroke-dasharray="1.2 1"/>
<path d="M318.3,409 L320,405.5 L321.7,409 z M318.3,427 L320,430.5 L321.7,427 z" fill="#333"/>
<!-- bottom disc -->
<circle cx="232" cy="493.5" r="43" fill="#b79b9d"/>
<circle cx="232" cy="493.5" r="32" fill="#8d7577"/>
<path d="M213.1,500.7 L205.7,478.8 A4.0,4.0 0 0 1 209.3,473.5 L232.4,472.3 A21.5,21.5 0 1 1 213.1,500.7 z" fill="#b4dbe2" stroke="#d3edf1" stroke-width="1.4"/>
<path d="M220,485 L264.5,515" stroke="#e59a90" stroke-width="2.2" fill="none"/>
<path d="M224.5,441 L234.5,480" stroke="#333" stroke-width="0.8"/>
<path d="M253,441 L248,460" stroke="#333" stroke-width="0.8"/>
<circle cx="234.5" cy="480.8" r="1.7" fill="#fff" stroke="#777" stroke-width="0.4"/>
<circle cx="247.5" cy="460.8" r="1.7" fill="#fff" stroke="#777" stroke-width="0.4"/>
<ellipse cx="219.8" cy="481" rx="2.8" ry="2.3" fill="#e8e8e8" stroke="#333" stroke-width="0.9"/>
<ellipse cx="215.8" cy="487.3" rx="2.8" ry="2.4" fill="#e8e8e8" stroke="#333" stroke-width="0.9"/>
<line x1="274" y1="518.5" x2="283" y2="518.5" stroke="#999" stroke-width="0.8" stroke-dasharray="1.5 1"/>
</g>
<!-- ===== kinematic schematic ===== -->
<g id="schematic" fill="none" stroke-linecap="butt">
<!-- main vertical shaft -->
<path d="M438,314.5 V451.5 M434.5,314.5 H441.5 M434.5,397 H441.5 M434,450 H442" stroke="#9a9a9a" stroke-width="1"/>
<!-- stage 1 horizontal shaft -->
<path d="M412.5,355.8 H481" stroke="#9a9a9a" stroke-width="1"/>
<!-- angle sensor -->
<rect x="397.5" y="346" width="3.5" height="19" fill="url(#hatchG)" stroke="none"/>
<line x1="401.2" y1="340" x2="401.2" y2="371" stroke="#8cc98a" stroke-width="1"/>
<rect x="404.5" y="348" width="8" height="7.5" fill="#dfeaf8" stroke="#2f63b5" stroke-width="0.9"/>
<rect x="404.5" y="355.5" width="8" height="7.5" fill="#fbe3d6" stroke="#e07c4a" stroke-width="0.9"/>
<text x="408.5" y="354" font-size="5.5" text-anchor="middle" style="fill:#2f63b5" stroke="none">S</text>
<text x="408.5" y="361.8" font-size="5.5" text-anchor="middle" style="fill:#e07c4a" stroke="none">N</text>
<!-- bearings stage 1 -->
<g fill="url(#hatchG)" stroke="none">
<rect x="415.5" y="346" width="13.5" height="6"/><rect x="415.5" y="361" width="13.5" height="6"/>
<rect x="447" y="346" width="13.5" height="6"/><rect x="447" y="361" width="13.5" height="6"/>
<rect x="415" y="414" width="13.5" height="5.5"/><rect x="415" y="427.5" width="13.5" height="6"/>
<rect x="447" y="414" width="13.5" height="5.5"/><rect x="447" y="427.5" width="13.5" height="6"/>
<rect x="458.8" y="481" width="12.5" height="5.5"/><rect x="458.8" y="495.3" width="12.5" height="6"/>
</g>
<!-- rotation arrows -->
<path d="M433,362 Q429.5,356 432.5,350.5" stroke="#333" stroke-width="1"/><path d="M431,351.5 L433.5,348.5 L434.2,352.5 z" fill="#333" stroke="none"/>
<path d="M432.5,429 Q429.5,423.5 432,418.5" stroke="#333" stroke-width="1"/><path d="M430.6,419.5 L433,416.5 L433.8,420.5 z" fill="#333" stroke="none"/>
<path d="M397.5,464 Q394.5,459.5 396,455.5" stroke="#333" stroke-width="1"/><path d="M394.5,456.5 L396.6,453.3 L397.8,457 z" fill="#333" stroke="none"/>
<!-- torque sensor -->
<rect x="465" y="338" width="10" height="36" rx="5" fill="url(#hatchR)" stroke="#ee7f75" stroke-width="1"/>
<!-- motor -->
<rect x="481.3" y="339" width="59.5" height="35" rx="4" stroke="#bdbdbd" stroke-width="1.1" fill="#fff"/>
<!-- stage 2 -->
<path d="M414.5,423.3 H460" stroke="#9a9a9a" stroke-width="1"/>
<!-- gear 3 housing -->
<path d="M438.8,486.5 H452.5 V454 H403.8 V527.8 H452.5 V495 H438.8" stroke="#94776c" stroke-width="1"/>
<path d="M438,527.8 V532 M434.5,532 H441.5" stroke="#9a9a9a" stroke-width="1"/>
<!-- sliding pivot bolt -->
<rect x="377" y="497.8" width="23" height="7.5" fill="url(#hatchK)" stroke="#444" stroke-width="0.8"/>
<rect x="405.5" y="497.8" width="18" height="7.5" fill="url(#hatchK)" stroke="#444" stroke-width="0.8"/>
<path d="M401,494 V508.5" stroke="#555" stroke-width="1"/>
<!-- shaft and steel wire -->
<path d="M419.5,464 V457.8 H429.5 V490.3 H483.8" stroke="#62c3d6" stroke-width="1.2"/>
<path d="M419.5,462 V527" stroke="#e0363a" stroke-width="1.1"/>
<!-- input motion arrow -->
<path d="M482,479.5 A4.2,12.5 0 1 0 483.5,500" stroke="#333" stroke-width="1"/>
<path d="M479.5,478 L484.2,478.6 L481,482 z" fill="#333" stroke="none"/>
</g>
<!-- ===== (b) side view render ===== -->
<g id="sideview">
<defs>
<linearGradient id="silv" x1="0" y1="0" x2="0" y2="1"><stop offset="0" stop-color="#bdbdbd"/><stop offset="0.3" stop-color="#f4f4f4"/><stop offset="0.7" stop-color="#dcdcdc"/><stop offset="1" stop-color="#8c8c8c"/></linearGradient>
<linearGradient id="mblk" x1="0" y1="0" x2="0" y2="1"><stop offset="0" stop-color="#3a3a3a"/><stop offset="0.35" stop-color="#262626"/><stop offset="1" stop-color="#0e0e0e"/></linearGradient>
<linearGradient id="mauv" x1="0" y1="0" x2="0" y2="1"><stop offset="0" stop-color="#c4adaf"/><stop offset="0.5" stop-color="#b89ea0"/><stop offset="1" stop-color="#9c8385"/></linearGradient>
<pattern id="teeth" width="4" height="8.7" patternUnits="userSpaceOnUse" patternTransform="translate(0 2)"><rect width="4" height="8.7" fill="#ececec"/><rect y="5.4" width="4" height="3.3" fill="#adadad"/></pattern><linearGradient id="gshade" x1="0" y1="0" x2="0" y2="1"><stop offset="0" stop-color="#fff" stop-opacity="0.25"/><stop offset="0.6" stop-color="#888" stop-opacity="0"/><stop offset="1" stop-color="#555" stop-opacity="0.35"/></linearGradient>
<pattern id="mteeth" width="4" height="6.4" patternUnits="userSpaceOnUse"><rect width="4" height="6.4" fill="#a58a8c"/><rect y="4.2" width="4" height="2.2" fill="#6f5759"/></pattern>
<pattern id="chain" width="6" height="7" patternUnits="userSpaceOnUse"><rect width="6" height="7" fill="#1c1c1c"/><rect x="1.2" y="1.2" width="3.2" height="3" fill="#8a8a8a"/></pattern>
<pattern id="hatchKK" width="3" height="3" patternUnits="userSpaceOnUse" patternTransform="rotate(-45)"><rect width="3" height="3" fill="#e8e8e8"/><line x1="0" y1="0" x2="3" y2="0" stroke="#151515" stroke-width="2"/></pattern>
</defs>
<!-- motor -->
<rect x="702" y="320" width="115" height="70.5" rx="4" fill="url(#mblk)"/>
<rect x="817" y="348" width="2.5" height="13" rx="1" fill="#1a1a1a"/>
<rect x="708" y="320.5" width="16" height="69.5" fill="url(#silv)"/>
<rect x="768" y="320.5" width="16" height="69.5" fill="url(#silv)"/>
<g fill="#3c3c3c"><rect x="809" y="330" width="5" height="5"/><rect x="809" y="341" width="5" height="5"/><rect x="809" y="365" width="5" height="5"/><rect x="809" y="376" width="5" height="5"/></g>
<!-- shaft -->
<rect x="664" y="342" width="31" height="18.5" fill="url(#silv)"/>
<rect x="693" y="346" width="9" height="11" fill="#d0d0d0"/>
<rect x="666" y="360" width="31" height="5" fill="#151515"/>
<!-- motor bracket -->
<path d="M641,389.5 L675,389.5 L696.5,364.5 L702,364.5 L702,319 L710,319 L710,391 L706,396.5 L679,397.5 L652,424 L652,430 L641,430 z" fill="#262626"/>
<!-- disc behind sensor -->
<rect x="657" y="324" width="8.5" height="58" rx="2" fill="#d9d9d9"/>
<rect x="657" y="366" width="8.5" height="16" rx="2" fill="#4a4a4a"/>
<!-- big white gear -->
<rect x="622.5" y="313.5" width="19" height="72" rx="3" fill="url(#teeth)" stroke="#dadada" stroke-width="0.5"/>
<rect x="622.5" y="313.5" width="4" height="72" fill="#fafafa" opacity="0.85"/><rect x="622.5" y="313.5" width="19" height="72" rx="3" fill="url(#gshade)"/>
<!-- torque sensor overlay -->
<rect x="641" y="318" width="2" height="66" fill="#3a3a3a"/>
<rect x="642.5" y="324" width="15.5" height="43" rx="2" fill="#e2e2e2"/>
<rect x="642" y="366" width="16" height="19" fill="url(#hatchKK)"/>
<rect x="642" y="323.5" width="16.5" height="62" rx="3" fill="url(#hatchR)" fill-opacity="0.55" stroke="#ee7f75" stroke-width="1"/>
<rect x="642.5" y="366" width="15.5" height="19" fill="url(#hatchKK)" opacity="0.9"/>
<rect x="642" y="323.5" width="16.5" height="62" rx="3" fill="none" stroke="#ee7f75" stroke-width="1"/>
<!-- pinions -->
<rect x="624" y="386" width="17" height="62" fill="url(#teeth)"/>
<rect x="623" y="404.5" width="18" height="6.5" fill="#d3b25e"/>
<rect x="623" y="438.5" width="18" height="7" fill="#d3b25e"/>
<!-- black frame -->
<rect x="609.6" y="338" width="2.3" height="32" fill="#8fd18f"/>
<path d="M641,389.5 L648,389.5 L648,532 L641,530 L638.5,520 L638.5,430 z" fill="#222"/>
<!-- mauve gear3 + hub -->
<rect x="624.5" y="449.5" width="15.5" height="77.5" fill="url(#mteeth)"/>
<rect x="595.4" y="445.5" width="29.5" height="82.5" rx="6" fill="url(#mauv)"/>
<rect x="603" y="445.5" width="1" height="82.5" fill="#8d7476"/>
<path d="M618.5,322 L623,322 L623,388 L624,400 L624,453 L620,456.5 L616,453 L616,399 L611.7,392 L611.7,334 Q612,325 618.5,322 z" fill="#222"/>
<rect x="589" y="476" width="7" height="36" rx="2" fill="#b39a9c"/>
<rect x="584" y="483.5" width="6" height="10.5" rx="2" fill="#8e8e8e"/>
<g fill="#e3e3e3"><rect x="632" y="457.5" width="8" height="7.5" rx="2.5"/><rect x="632" y="483.5" width="8" height="7.5" rx="2.5"/><rect x="632" y="509.5" width="8" height="7.5" rx="2.5"/></g>
<!-- right chain plates -->
<path d="M648,420 L653,420 L657.5,434 L657.5,529 L648,532 z" fill="url(#chain)"/>
<rect x="657.5" y="448" width="8" height="73" fill="#c9c9c9"/>
<rect x="659" y="448" width="2" height="73" fill="#8d8d8d"/>
<rect x="665" y="448" width="8" height="96" fill="url(#chain)"/>
<!-- scale bar -->
<path d="M596.3,541.5 V545 H636.3 V541.5" fill="none" stroke="#333" stroke-width="1"/>
</g>
<!-- ===== legend ===== -->
<g id="legend" fill="none">
<line x1="723" y1="426" x2="747" y2="426" stroke="#e46a60" stroke-width="1.3"/>
<line x1="723" y1="443.5" x2="747" y2="443.5" stroke="#7ccfe0" stroke-width="1"/>
<line x1="723" y1="443.5" x2="732" y2="443.5" stroke="#4bb7d2" stroke-width="2.2" stroke-linecap="round"/>
<rect x="723" y="458" width="17.5" height="6" fill="url(#hatchK)" stroke="#444" stroke-width="0.8"/>
<circle cx="746" cy="461" r="2.6" fill="#aaa" stroke="#333" stroke-width="0.9"/>
<path d="M723,478.5 H735" stroke="#a5877c" stroke-width="1"/>
<path d="M740.5,475.5 V481.5 H749.5 V475.5" stroke="#94776c" stroke-width="1"/>
<rect x="731" y="490.5" width="9.5" height="11.5" rx="2.5" fill="url(#hatchR)" stroke="#ee8a7e" stroke-width="1"/>
<line x1="723" y1="513.5" x2="740" y2="513.5" stroke="#8cc98a" stroke-width="1"/>
<ellipse cx="747" cy="513.5" rx="6" ry="5.3" stroke="#8cc98a" stroke-width="1" fill="#fff"/>
<rect x="731" y="522.5" width="8.5" height="7.5" fill="#dfeaf8" stroke="#2f63b5" stroke-width="0.9"/>
<rect x="731" y="530" width="8.5" height="7.5" fill="#fbe3d6" stroke="#e07c4a" stroke-width="0.9"/>
<text x="735.2" y="528.6" font-size="5.5" text-anchor="middle" style="fill:#2f63b5">S</text>
<text x="735.2" y="536.4" font-size="5.5" text-anchor="middle" style="fill:#e07c4a">N</text>
</g>
<!-- ===== boxes, leader lines and labels ===== -->
<g id="boxes">
<rect class="dash" x="368.5" y="6.2" width="116" height="149.5"/>
<path class="dash" d="M609,168.5 H368.5 V295.5 H609 V168.5"/>
<rect class="dash" x="736.4" y="6.2" width="90" height="123.4"/>
<rect class="dash" x="736.4" y="141" width="90" height="49"/>
<rect class="dash" x="160.5" y="313.5" width="188.5" height="230.5"/>
<rect class="dash" x="707.5" y="412.5" width="113" height="136"/>
<line class="dash" x1="562.8" y1="326" x2="562.8" y2="534"/>
<path class="dash" d="M117,484 L160,474 M117,488 L160,495" stroke-dasharray="4 3"/>
</g>
<g id="leaders">
<path class="lead" d="M485,10.5 H643 L662.6,29.6"/>
<path class="lead" d="M737,21 H702 L691,31"/>
<path class="lead" d="M552.5,109.8 L703,109 L737,141" stroke="#c4c4c4"/>
<path class="lead" d="M737,190 L715,211"/>
<path class="lead" d="M560,168 L604,124"/>
<path class="lead" d="M653,42.5 L552.5,109.8" stroke="#d0d0d0"/>
</g>
<g id="labels">
<text x="0.6" y="14" font-size="16.2">(a)</text>
<text x="0.6" y="323" font-size="16.2">(b)</text>
<text class="t11" x="158" y="29.5">Real-time control</text>
<text class="t10 mid" x="282" y="96" style="fill:#555">Torque data</text>
<text class="t10 mid" x="282" y="107" style="fill:#555">display</text>
<text class="t11 mid" x="282" y="132">Human-machine</text>
<text class="t11 mid" x="282.5" y="146">interface (HMI)</text>
<text class="t11" x="276" y="235">Back-driving</text>
<text class="t13 mid" x="57.5" y="269">Bedside isokinetic</text>
<text class="t13 mid" x="60" y="284.5">training</text>
<text class="t11 mid" x="299" y="277" style="fill:#6cbcaa">Personalized optimal</text>
<text class="t11 mid" x="299.5" y="289.8" style="fill:#6cbcaa">stiffness</text>

<text class="t13 mid" x="426" y="22">Control circuit</text>
<text class="t11 mid" x="428" y="46.5">Isokinetic controller</text>
<text class="t11 mid" x="428" y="130">Energy regeneration</text>
<text class="t11 mid" x="429" y="143">circuit</text>

<text class="t13" x="377" y="184">Vairable stiffness actuator (VSA)</text>
<rect x="379.5" y="200.5" width="117.5" height="86.5" fill="#efefef"/>
<path d="M497,252.4 L506,258.6 L497,267.6 z" fill="#efefef"/>
<text class="t11 mid" x="439.5" y="218.5">Stiffness adjustment</text>
<text class="t11 mid" x="445" y="239.5" style="fill:#7fbfb3">Optimal</text>
<line x1="397.5" y1="250.8" x2="478" y2="250.8" stroke="#a9a9a9" stroke-width="1"/>
<circle cx="397.5" cy="250.8" r="3" fill="#fff" stroke="#a9a9a9" stroke-width="0.9"/>
<circle cx="445" cy="250.8" r="3.1" fill="#fff" stroke="#7fbfb3" stroke-width="1"/>
<circle cx="478" cy="250.8" r="3" fill="#fff" stroke="#a9a9a9" stroke-width="0.9"/>
<text class="t11" x="387.5" y="272.5" style="fill:#a0a0a0">Min</text>
<text class="t11" x="437" y="272.5" style="fill:#a0a0a0">...</text>
<text class="t11" x="468" y="272.5" style="fill:#a0a0a0">Max</text>
<text class="t10" x="581" y="230">Motor</text>

<text class="t13 mid" x="779" y="22">Power system</text>
<text class="t10 mid" x="781" y="110.5" style="fill:#444">Parallel</text>
<text class="t10 mid" x="781" y="122.4" style="fill:#444">configuration</text>
<text class="t11 mid" x="778" y="162">Human-robot</text>
<text class="t11 mid" x="778.5" y="175.5">coupling module</text>

<text class="t10" x="285.8" y="338">Minimum</text>
<text class="t10" x="289.2" y="349.8">stiffness</text>
<text class="t10" x="186" y="420.7">Steel wire</text>
<text class="t10" x="235.7" y="420.7">Sliding pivot</text>
<text class="t10" x="212.8" y="439.4">Shaft</text>
<text class="t10" x="243.8" y="439.4">Gear3</text>
<text class="t10" x="285" y="514.4">Maximum</text>
<text class="t10" x="289.8" y="526">stiffness</text>

<text class="t11 mid" x="510.5" y="359.5" style="fill:#b0b0b0">Motor</text>
<text class="t11 mid" x="479" y="520.6">Input</text>
<text class="t11 mid" x="479" y="534.5">motion</text>
<text class="t11 mid" x="746.5" y="359" style="fill:#fff">Motor</text>
<text class="t11 mid" x="616" y="539.5">20mm</text>

<text class="t10 mid" x="784" y="429.5">Steel wire</text>
<text class="t10 mid" x="782" y="446">Shaft</text>
<text class="t10 mid" x="784" y="465.5">Sliding pivot</text>
<text class="t10 mid" x="782" y="482">Gear 3</text>
<text class="t10 mid" x="784" y="499">Torque sensor</text>
<text class="t10 mid" x="786" y="516">Angle sensor</text>
<text class="t10 mid" x="784" y="534">Magnet</text>
</g>
</svg>
</body>
</html>
